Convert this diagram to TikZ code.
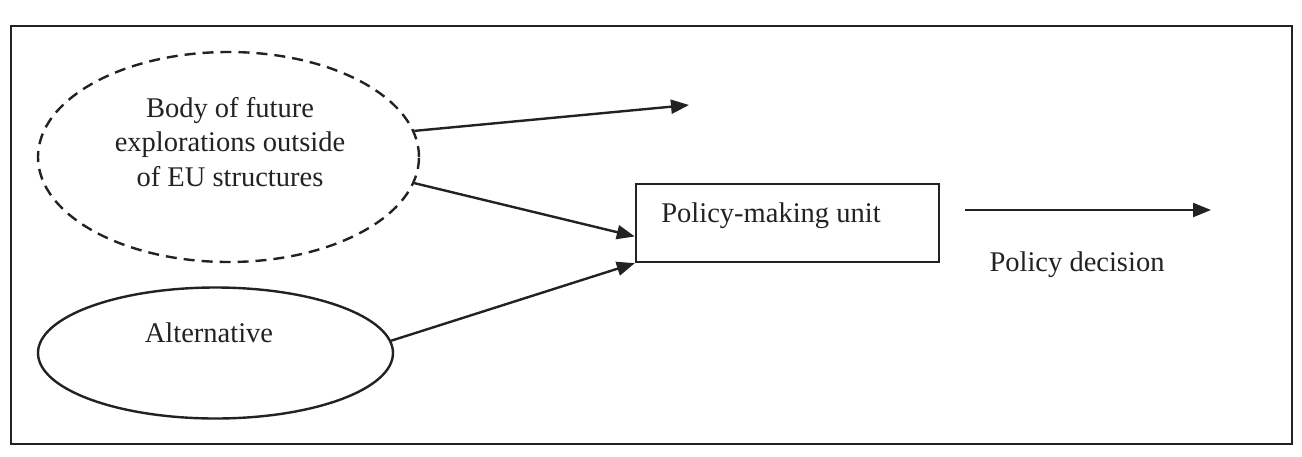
\documentclass[tikz,border=0pt]{standalone}
\usepackage{fontspec}
\setmainfont{Liberation Serif}
\usetikzlibrary{shapes.geometric,arrows.meta,calc}
\definecolor{ink}{HTML}{222222}
\tikzset{
  lbl/.style={font=\fontsize{28.5}{34.5}\selectfont, text=ink, inner sep=0pt, align=center},
  conn/.style={draw=ink, line width=2.4pt, -{Triangle[length=18pt,width=14pt]}},
  shapeline/.style={draw=ink, line width=2.4pt},
}
\begin{document}
\begin{tikzpicture}[x=1pt,y=-1pt]
\useasboundingbox (0,0) rectangle (1302,456);
\node[draw=ink, line width=2.6pt, minimum width=1281pt, minimum height=418pt, inner sep=0pt] (frame) at (651.5,235) {};
\node[ellipse, shapeline, dash pattern=on 11pt off 7pt, minimum width=381pt, minimum height=210pt, inner sep=0pt] (body) at (228.5,157) {};
\node[lbl] (bodytxt) at (230,142) {Body of future\\explorations outside\\of EU structures};
\node[ellipse, shapeline, minimum width=355pt, minimum height=131pt, inner sep=0pt] (alt) at (215.5,353) {};
\node[lbl] (alttxt) at (209,333) {Alternative};
\node[shapeline, minimum width=303pt, minimum height=78pt, inner sep=0pt] (pmu) at (787.5,223) {};
\node[lbl] (pmutxt) at (771,216) {Policy-making unit};
\node[lbl] (pdtxt) at (1077,265) {Policy decision};
\coordinate (up) at (689,105);
\coordinate (d1) at (965,210);
\coordinate (d2) at (1211,210);
\draw[conn] (body.8) -- (up);
\draw[conn] (body.-8) -- ($(pmu.south west)!0.333!(pmu.north west)$);
\draw[conn] (alt.4) -- (pmu.south west);
\draw[conn] (d1) -- (d2);
\end{tikzpicture}
\end{document}
